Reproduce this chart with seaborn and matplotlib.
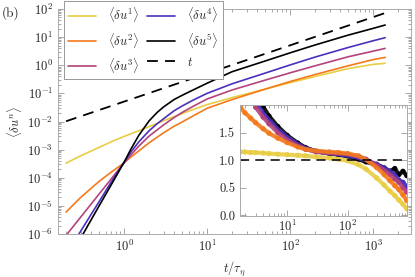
import numpy as np
import pandas as pd
import matplotlib
matplotlib.use('Agg')
import matplotlib.pyplot as plt
import seaborn as sns
from matplotlib.ticker import LogLocator, NullFormatter, FixedLocator

# ---- main panel: t/tau_eta and log10 <du^n>
t_main = [0.2, 0.3, 0.5, 0.7, 1, 1.2, 1.5, 2, 2.5, 3, 4, 5, 7, 10, 20, 50, 100, 200, 500, 1000, 1400]
log_du1 = [-3.48, -3.22, -2.92, -2.72, -2.53, -2.44, -2.33, -2.18, -2.07, -1.97, -1.83, -1.72, -1.56, -1.40,
           -1.15, -0.85, -0.62, -0.40, -0.12, 0.03, 0.07]
log_du2 = [-5.22, -4.70, -4.13, -3.80, -3.47, -3.27, -3.05, -2.76, -2.56, -2.40, -2.17, -2.02, -1.78, -1.53,
           -1.22, -0.85, -0.58, -0.33, -0.02, 0.20, 0.28]
log_du3 = [-6.05, -5.40, -4.58, -4.04, -3.47, -3.20, -2.88, -2.52, -2.30, -2.12, -1.86, -1.68, -1.44, -1.20,
           -0.88, -0.53, -0.27, -0.02, 0.30, 0.50, 0.60]
log_du4 = [-6.75, -5.90, -4.85, -4.15, -3.45, -3.10, -2.73, -2.33, -2.08, -1.90, -1.62, -1.45, -1.22, -1.00,
           -0.66, -0.28, 0.01, 0.29, 0.63, 0.87, 0.98]
log_du5 = [-7.10, -6.15, -5.00, -4.25, -3.45, -3.00, -2.50, -1.98, -1.68, -1.48, -1.22, -1.07, -0.86, -0.64,
           -0.23, 0.15, 0.44, 0.72, 1.07, 1.31, 1.43]
t_ref = [0.2, 1, 10, 100, 1400]
ref_line = [0.0102, 0.051, 0.51, 5.1, 72]

# ---- inset: compensated values
t_in = [1.7, 2, 2.5, 3, 4, 5, 7, 10, 15, 20, 30, 50, 70, 100, 150, 200, 300, 400, 500, 600, 700, 820, 950]
in_du1 = [1.15, 1.15, 1.14, 1.14, 1.13, 1.12, 1.11, 1.10, 1.09, 1.08, 1.06, 1.04, 1.02, 0.99, 0.92, 0.84, 0.68, 0.55, 0.44, 0.36, 0.28, 0.20, 0.12]
in_du2 = [1.95, 1.86, 1.76, 1.68, 1.57, 1.49, 1.40, 1.32, 1.24, 1.20, 1.17, 1.15, 1.14, 1.12, 1.08, 1.01, 0.87, 0.74, 0.63, 0.54, 0.47, 0.37, 0.27]
t_in3 = [3, 4, 5, 7, 10, 15, 20, 30, 50, 70, 100, 150, 200, 300, 400, 500, 600, 700, 820, 950]
in_du3 = [1.96, 1.78, 1.66, 1.50, 1.37, 1.26, 1.20, 1.15, 1.13, 1.12, 1.11, 1.07, 1.02, 0.91, 0.82, 0.74, 0.66, 0.60, 0.50, 0.42]
t_in4 = [3.3, 4, 5, 7, 10, 15, 20, 30, 50, 70, 100, 150, 200, 300, 400, 500, 600, 700, 820, 950]
in_du4 = [2.00, 1.85, 1.73, 1.56, 1.42, 1.29, 1.22, 1.16, 1.13, 1.11, 1.08, 1.04, 1.00, 0.93, 0.86, 0.80, 0.74, 0.64, 0.60, 0.52]
t_in5 = [3.8, 4, 5, 7, 10, 15, 20, 30, 50, 70, 100, 150, 200, 300, 400, 500, 600, 700, 820, 950]
in_du5 = [2.00, 1.97, 1.80, 1.61, 1.45, 1.31, 1.23, 1.16, 1.12, 1.10, 1.07, 1.02, 0.97, 0.92, 0.86, 0.80, 0.85, 0.74, 0.80, 0.72]

labels = [r'$\langle\delta u^1\rangle$', r'$\langle\delta u^2\rangle$', r'$\langle\delta u^3\rangle$',
          r'$\langle\delta u^4\rangle$', r'$\langle\delta u^5\rangle$']
colors = ['#e8cd45', '#f47a1c', '#b4437c', '#4b30bd', '#000000']

sns.set_theme(style='ticks')
plt.rcParams['font.family'] = ['cmr10', 'DejaVu Serif']
plt.rcParams['mathtext.fontset'] = 'cm'
plt.rcParams['axes.formatter.use_mathtext'] = True
plt.rcParams['axes.unicode_minus'] = False

def style_axes(ax, fs):
    for s in ax.spines.values():
        s.set_color('#aaaaaa')
        s.set_linewidth(0.7)
    ax.tick_params(which='both', direction='in', top=True, right=True,
                   color='#999999', labelsize=fs, labelcolor='#222222', width=0.6)
    ax.tick_params(which='major', length=4)
    ax.tick_params(which='minor', length=2)

fig = plt.figure(figsize=(4.15, 2.77), dpi=100)
ax = fig.add_axes([0.1398, 0.1552, 0.8506, 0.8123])

series = [log_du1, log_du2, log_du3, log_du4, log_du5]
for vals, lab, col in zip(series, labels, colors):
    sns.lineplot(x=t_main, y=10.0 ** np.array(vals), ax=ax, color=col, lw=1.2, label=lab)
sns.lineplot(x=t_ref, y=ref_line, ax=ax, color='black', lw=1.3, label=r'$t$')
ax.lines[-1].set_dashes([6, 4])

ax.set_xscale('log')
ax.set_yscale('log')
ax.set_xlim(0.16, 2870)
ax.set_ylim(1e-6, 1e2)
ax.yaxis.set_major_locator(LogLocator(base=10, numticks=20))
ax.yaxis.set_minor_locator(LogLocator(base=10, subs=np.arange(2, 10), numticks=100))
ax.yaxis.set_minor_formatter(NullFormatter())
ax.xaxis.set_major_locator(LogLocator(base=10, numticks=20))
ax.xaxis.set_minor_locator(LogLocator(base=10, subs=np.arange(2, 10), numticks=100))
ax.xaxis.set_minor_formatter(NullFormatter())
style_axes(ax, 9)
ax.set_xlabel(r'$t/\tau_\eta$', fontsize=9, labelpad=4)
ax.set_ylabel(r'$\langle\delta u^n\rangle$', fontsize=9, labelpad=2)

leg = ax.legend(loc='upper left', bbox_to_anchor=(0.017, 1.036), borderaxespad=0,
                ncol=2, fontsize=9, fancybox=False, framealpha=1, edgecolor='#999999',
                handlelength=2.2, handletextpad=1.0, columnspacing=0.6, labelspacing=0.5,
                borderpad=0.35)
leg.get_frame().set_linewidth(0.7)

fig.text(0.005, 0.952, '(b)', fontsize=9.5, color='#222222', va='center')

# ---- inset
axi = fig.add_axes([0.578, 0.2202, 0.4024, 0.4007])
inset = [(t_in5, in_du5, colors[4]), (t_in4, in_du4, colors[3]), (t_in3, in_du3, colors[2]),
         (t_in, in_du2, colors[1]), (t_in, in_du1, colors[0])]
for tt, vv, col in inset:
    sns.lineplot(x=tt, y=vv, ax=axi, color=col, lw=3.0, alpha=0.9)
    sns.scatterplot(x=tt, y=vv, ax=axi, color=col, s=14, edgecolor='none')
axi.axhline(1.0, color='black', lw=1.1, dashes=[6, 4])
axi.set_xscale('log')
axi.set_xlim(1.65, 950)
axi.set_ylim(-0.01, 2.0)
axi.yaxis.set_major_locator(FixedLocator([0.0, 0.5, 1.0, 1.5]))
axi.set_yticklabels(['0.0', '0.5', '1.0', '1.5'])
axi.xaxis.set_major_locator(LogLocator(base=10, numticks=20))
axi.xaxis.set_minor_locator(LogLocator(base=10, subs=np.arange(2, 10), numticks=100))
axi.xaxis.set_minor_formatter(NullFormatter())
style_axes(axi, 9)
axi.tick_params(axis='x', pad=2)
axi.set_facecolor('white')

fig.savefig('out.png', dpi=100)
